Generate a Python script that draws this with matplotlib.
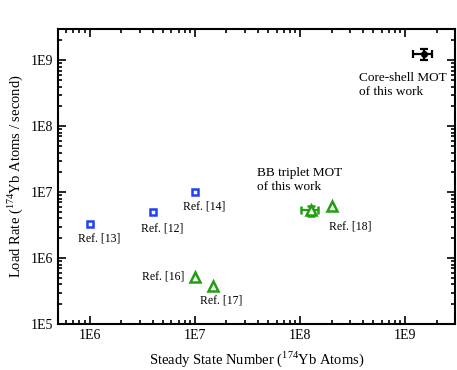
import numpy as np
import matplotlib
matplotlib.use('Agg')
import matplotlib.pyplot as plt
from matplotlib.ticker import LogLocator, FixedLocator, FixedFormatter

plt.rcParams['font.family'] = ['Liberation Serif', 'DejaVu Serif']
plt.rcParams['mathtext.fontset'] = 'custom'
plt.rcParams['mathtext.rm'] = 'Liberation Serif'

# reference MOTs, blue squares
sq_x = [1e6, 4e6, 1e7]
sq_y = [3.3e6, 5e6, 1e7]
sq_lab = ['Ref. [13]', 'Ref. [12]', 'Ref. [14]']

# reference MOTs, green triangles
tri_x = [1e7, 1.5e7, 2e8]
tri_y = [5.1e5, 3.8e5, 6.1e6]
tri_lab = ['Ref. [16]', 'Ref. [17]', 'Ref. [18]']

# this work
bb_x, bb_y = 1.28e8, 5.4e6
bb_xerr = [[0.25e8], [0.22e8]]
bb_yerr = [[1.1e6], [0.8e6]]
cs_x, cs_y = 1.5e9, 1.25e9
cs_xerr = [[0.3e9], [0.3e9]]
cs_yerr = [[0.25e9], [0.25e9]]

ticks = [1e6, 1e7, 1e8, 1e9]
tick_lab = ['1E6', '1E7', '1E8', '1E9']
yticks = [1e5, 1e6, 1e7, 1e8, 1e9]
ytick_lab = ['1E5', '1E6', '1E7', '1E8', '1E9']

blue = '#2040f8'
green = '#20a010'

fig = plt.figure(figsize=(4.57, 3.70), dpi=100)
ax = fig.add_axes([0.127, 0.124, 0.869, 0.798])
ax.set_xscale('log')
ax.set_yscale('log')

ax.plot(sq_x, sq_y, 's', ms=5, mfc='white', mec=blue, mew=1.8, ls='none')
ax.plot(tri_x, tri_y, '^', ms=7, mfc='white', mec=green, mew=1.8, ls='none')
ax.errorbar(bb_x, bb_y, xerr=bb_xerr, yerr=bb_yerr, fmt='^', ms=7, mfc='white',
            mec=green, mew=1.8, color=green, capsize=3, elinewidth=1.6, capthick=1.6)
ax.errorbar(cs_x, cs_y, xerr=cs_xerr, yerr=cs_yerr, fmt='o', ms=4, color='black',
            capsize=3, elinewidth=1.6, capthick=1.6)

fs = 8.5
offs = [(-12, -15), (-12, -16), (-12, -14)]
for x, y, t, o in zip(sq_x, sq_y, sq_lab, offs):
    ax.annotate(t, (x, y), xytext=o, textcoords='offset pixels', ha='left', va='center', fontsize=fs)
offs = [(-10, 1), (-13, -15), (-3, -20)]
has = ['right', 'left', 'left']
for x, y, t, o, h in zip(tri_x, tri_y, tri_lab, offs, has):
    ax.annotate(t, (x, y), xytext=o, textcoords='offset pixels', ha=h, va='center', fontsize=fs)
ax.annotate('BB triplet MOT\nof this work', (bb_x, bb_y), xytext=(-54, 30),
            textcoords='offset pixels', ha='left', va='center', fontsize=9.5, linespacing=1.25)
ax.annotate('Core-shell MOT\nof this work', (cs_x, cs_y), xytext=(-65, -31),
            textcoords='offset pixels', ha='left', va='center', fontsize=9.5, linespacing=1.25)

ax.set_xlim(5e5, 3e9)
ax.set_ylim(1e5, 3e9)
ax.xaxis.set_major_locator(FixedLocator(ticks))
ax.xaxis.set_major_formatter(FixedFormatter(tick_lab))
ax.yaxis.set_major_locator(FixedLocator(yticks))
ax.yaxis.set_major_formatter(FixedFormatter(ytick_lab))
ax.xaxis.set_minor_locator(LogLocator(base=10, subs=np.arange(2, 10)))
ax.yaxis.set_minor_locator(LogLocator(base=10, subs=np.arange(2, 10)))
ax.xaxis.set_minor_formatter(plt.NullFormatter())
ax.yaxis.set_minor_formatter(plt.NullFormatter())
ax.tick_params(which='both', direction='in', top=True, right=True, width=1.2, labelsize=10)
ax.tick_params(which='major', length=6)
ax.tick_params(which='minor', length=3)
for s in ax.spines.values():
    s.set_linewidth(1.5)

ax.set_xlabel('Steady State Number ($^{174}$Yb Atoms)', fontsize=10.5, labelpad=5)
ax.set_ylabel('Load Rate ($^{174}$Yb Atoms / second)', fontsize=10.5)

fig.savefig('out.png', dpi=100)
